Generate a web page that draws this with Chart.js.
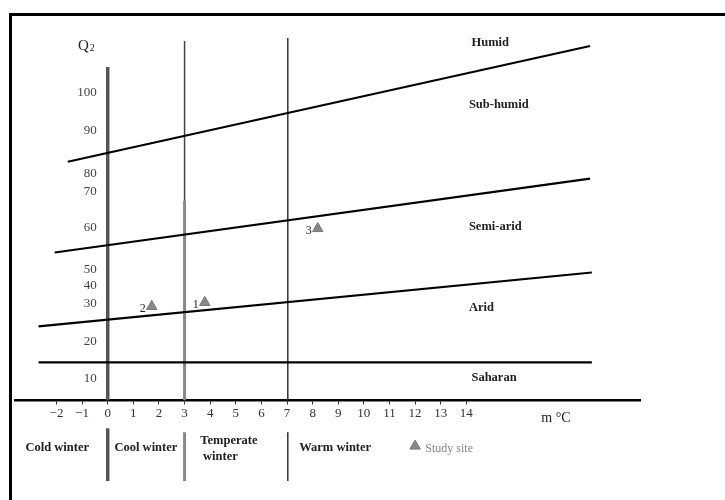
<!DOCTYPE html>
<html>
<head>
<meta charset="utf-8">
<script src="https://cdn.jsdelivr.net/npm/chart.js@4.4.1/dist/chart.umd.min.js"></script>
<style>
  html, body { margin: 0; padding: 0; background: #fff; }
  #wrap { width: 725px; height: 500px; position: relative; }
</style>
</head>
<body>
<div id="wrap"><canvas id="climagram"></canvas></div>
<script>
// x = m (mean minimum temp of coldest month, °C); y = height on the drawn Q2 axis
const xTicks = [-2, -1, 0, 1, 2, 3, 4, 5, 6, 7, 8, 9, 10, 11, 12, 13, 14];
const q2Ticks = ['10', '20', '30', '40', '50', '60', '70', '80', '90', '100'];
const q2TickPos = [22, 59, 97, 115, 131, 173, 209, 227, 270, 308];

// bioclimatic boundaries [m, height]
const humidLine = [[-1.56, 239], [18.83, 355]];
const semiAridLine = [[-2.07, 148], [18.83, 222]];
const aridLine = [[-2.7, 74], [18.9, 128]];
const saharanLine = [[-2.7, 38], [18.9, 38]];

// winter type limits
const coldLimit = [[0, 334], [0, 0], [0, null], [0, -28], [0, -81]];
const coolLimitTop = [[3, 360], [3, 200]];
const coolLimitLow = [[3, 200], [3, 0], [3, null], [3, -32], [3, -81]];
const warmLimit = [[7.03, 363], [7.03, 0], [7.03, null], [7.03, -32], [7.03, -81]];

// study sites
const siteNames = ['1', '2', '3'];
const siteM = [3.79, 1.72, 8.2];
const siteQ2 = [98, 94, 172];

const zoneNames = ['Humid', 'Sub-humid', 'Semi-arid', 'Arid', 'Saharan'];
const zoneAt = [[14.2, 358], [14.1, 296], [14.1, 174], [14.1, 93], [14.2, 22]];

const pts = arr => arr.map(p => ({x: p[0], y: p[1]}));
function lineSet(arr, color, width) {
  return { data: pts(arr), showLine: true, borderColor: color, borderWidth: width,
           pointRadius: 0, spanGaps: false, fill: false };
}

const serif = '"Liberation Serif", "DejaVu Serif", serif';

const textPlugin = {
  id: 'texts',
  beforeDraw(chart) {
    const c = chart.ctx;
    c.save();
    c.strokeStyle = '#000';
    c.lineWidth = 3;
    c.beginPath();
    c.moveTo(10.5, 500);
    c.lineTo(10.5, 14.5);
    c.lineTo(725, 14.5);
    c.stroke();
    c.restore();
  },
  afterDraw(chart) {
    const c = chart.ctx, sx = chart.scales.x, sy = chart.scales.y;
    const px = v => sx.getPixelForValue(v), py = v => sy.getPixelForValue(v);
    c.save();
    c.fillStyle = '#222';
    c.textAlign = 'left';
    c.textBaseline = 'middle';
    c.font = 'bold 12.5px ' + serif;
    zoneNames.forEach((n, i) => c.fillText(n, px(zoneAt[i][0]), py(zoneAt[i][1])));

    // site numbers
    c.textAlign = 'center';
    c.font = '12px ' + serif;
    siteNames.forEach((n, i) => c.fillText(n, px(siteM[i]) - 9, py(siteQ2[i]) + 2));

    // axis titles
    c.font = '15px ' + serif;
    c.fillText('Q', px(-0.95), py(355));
    c.font = '10px ' + serif;
    c.fillText('2', px(-0.6), py(353));
    c.font = '14px ' + serif;
    c.fillText('m °C', px(17.5), py(-18));

    // winter types
    c.font = 'bold 12.5px ' + serif;
    c.fillText('Cold winter', px(-1.97), py(-48));
    c.fillText('Cool winter', px(1.49), py(-48));
    c.fillText('Temperate', px(4.73), py(-41));
    c.fillText('winter', px(4.4), py(-57));
    c.fillText('Warm winter', px(8.88), py(-48));
    c.fillStyle = '#888';
    c.font = '12px ' + serif;
    c.textAlign = 'left';
    c.fillText('Study site', px(12.4), py(-49));
    c.restore();
  }
};

new Chart(document.getElementById('climagram'), {
  type: 'scatter',
  data: {
    datasets: [
      lineSet(humidLine, '#000', 2.2),
      lineSet(semiAridLine, '#000', 2.2),
      lineSet(aridLine, '#000', 2.2),
      lineSet(saharanLine, '#000', 2.2),
      lineSet(coldLimit, '#555', 3.5),
      lineSet(coolLimitTop, '#444', 1.5),
      lineSet(coolLimitLow, '#888', 3),
      lineSet(warmLimit, '#333', 1.5),
      { data: siteM.map((m, i) => ({x: m, y: siteQ2[i]})), pointStyle: 'triangle',
        pointRadius: 6, backgroundColor: '#888', borderColor: '#777', borderWidth: 1 },
      { data: [{x: 12, y: -46}], pointStyle: 'triangle', pointRadius: 6,
        backgroundColor: '#888', borderColor: '#777', borderWidth: 1 }
    ]
  },
  options: {
    responsive: true,
    maintainAspectRatio: false,
    animation: false,
    layout: { padding: { left: 15, right: 85, top: 30, bottom: 0 } },
    plugins: { legend: { display: false }, tooltip: { enabled: false } },
    scales: {
      x: {
        type: 'linear',
        position: { y: 0 },
        min: -3.62, max: 20.78,
        afterBuildTicks: s => { s.ticks = xTicks.map(v => ({value: v})); },
        afterFit: s => { s.height = 0; s.paddingLeft = 0; s.paddingRight = 0; },
        grid: { drawOnChartArea: false, tickLength: 3, color: '#333' },
        border: { display: true, color: '#000', width: 2.5 },
        ticks: { autoSkip: false, maxRotation: 0, padding: 3, color: '#333',
                 font: { family: serif, size: 13 },
                 callback: v => (v < 0 ? '\u2212' + Math.abs(v) : String(v)) }
      },
      y: {
        type: 'linear',
        position: { x: -0.43 },
        min: -93, max: 371,
        afterBuildTicks: s => { s.ticks = q2TickPos.map(v => ({value: v})); },
        afterFit: s => { s.width = 0; s.paddingTop = 0; s.paddingBottom = 0; },
        grid: { display: false },
        border: { display: false },
        ticks: { autoSkip: false, padding: 0, color: '#444',
                 font: { family: serif, size: 13 },
                 callback: (v, i) => q2Ticks[i] }
      }
    }
  },
  plugins: [textPlugin]
});
</script>
</body>
</html>
